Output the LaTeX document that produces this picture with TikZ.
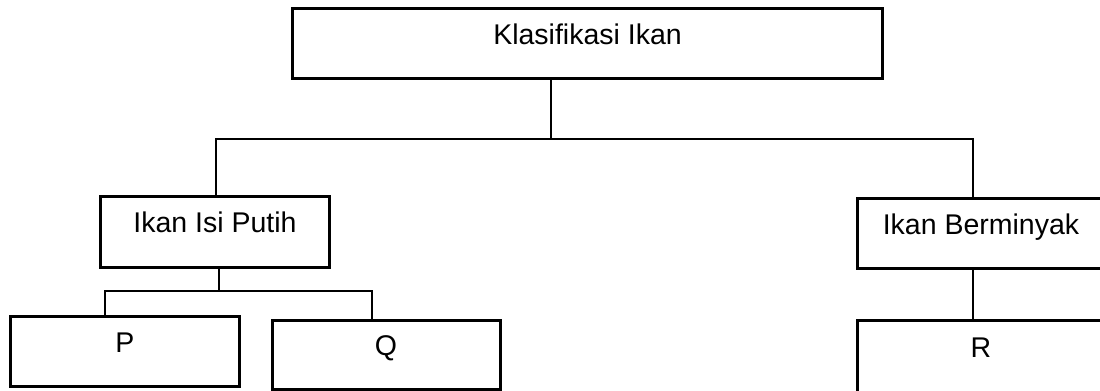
\documentclass[tikz,border=0pt]{standalone}
\usepackage{fontspec}
\setmainfont{Liberation Sans}
\begin{document}
\begin{tikzpicture}[x=1bp,y=-1bp,
  box/.style={draw=black, line width=3bp, inner sep=0pt, text depth=0.5em, text height=0.75em,
    font=\fontsize{28.5bp}{34bp}\selectfont},
  link/.style={draw=black, line width=1.4bp}]
\useasboundingbox (0,0) rectangle (1100,390);
\clip (0,0) rectangle (1100,390);
\node[box, minimum width=589bp, minimum height=70bp] (klas) at (587.5,43) {Klasifikasi Ikan};
\node[box, minimum width=228bp, minimum height=71bp] (putih) at (215,231.5) {Ikan Isi Putih};
\node[box, minimum width=248bp, minimum height=70bp] (minyak) at (981,233) {Ikan Berminyak};
\node[box, minimum width=228bp, minimum height=70bp] (p) at (125,351) {P};
\node[box, minimum width=228bp, minimum height=69bp] (q) at (386,354.5) {Q};
\node[box, minimum width=248bp, minimum height=72bp] (r) at (981,356) {R};
\coordinate (j1) at (551,139);
\coordinate (jl) at (216,139);
\coordinate (jr) at (973,139);
\draw[link] (klas.south -| j1) -- (j1);
\draw[link] (jl |- putih.north) -- (jl) -- (jr) -- (jr |- minyak.north);
\coordinate (j2) at (219,291);
\coordinate (j2l) at (105,291);
\coordinate (j2r) at (372,291);
\draw[link] (putih.south -| j2) -- (j2);
\draw[link] (j2l |- p.north) -- (j2l) -- (j2r) -- (j2r |- q.north);
\draw[link] (minyak.south -| jr) -- (jr |- r.north);
\end{tikzpicture}
\end{document}
